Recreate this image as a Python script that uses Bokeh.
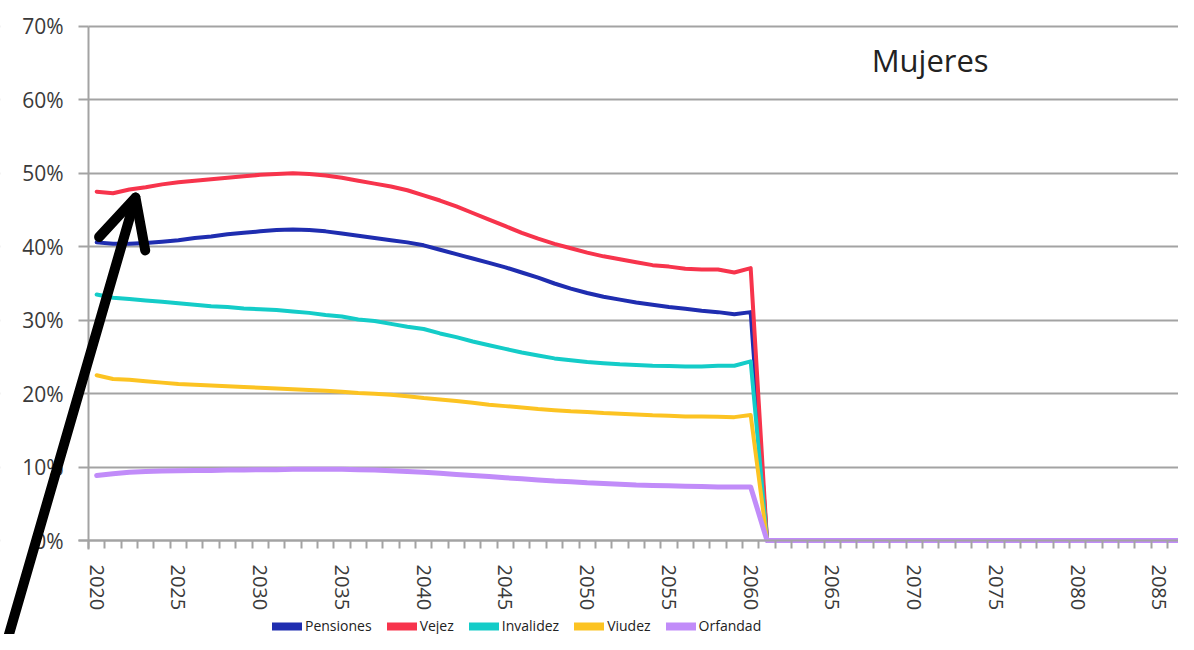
from bokeh.plotting import figure
from bokeh.models import (FixedTicker, Legend, LegendItem, Arrow, OpenHead,
                          Label, ColumnDataSource, BoxAnnotation)
from bokeh.embed import file_html
from bokeh.resources import INLINE

# ---------------- data ----------------
years = list(range(2020, 2088))

pensiones = [40.6, 40.4, 40.4, 40.5, 40.7, 40.9, 41.2, 41.4, 41.7, 41.9,
             42.1, 42.3, 42.35, 42.3, 42.1, 41.8, 41.5, 41.2, 40.9, 40.6,
             40.2, 39.6, 39.0, 38.4, 37.8, 37.2, 36.5, 35.8, 35.0, 34.3,
             33.7, 33.2, 32.8, 32.4, 32.1, 31.8, 31.55, 31.3, 31.1, 30.8,
             31.1]
vejez = [47.5, 47.3, 47.8, 48.1, 48.5, 48.8, 49.0, 49.2, 49.4, 49.6,
         49.8, 49.9, 50.0, 49.9, 49.7, 49.4, 49.0, 48.6, 48.2, 47.7,
         47.0, 46.3, 45.5, 44.6, 43.7, 42.8, 41.9, 41.1, 40.4, 39.8,
         39.2, 38.7, 38.3, 37.9, 37.5, 37.3, 37.0, 36.9, 36.9, 36.5,
         37.1]
invalidez = [33.5, 33.05, 32.9, 32.7, 32.5, 32.3, 32.1, 31.9, 31.8, 31.6,
             31.5, 31.4, 31.2, 31.0, 30.7, 30.5, 30.1, 29.9, 29.5, 29.1,
             28.8, 28.2, 27.7, 27.1, 26.6, 26.1, 25.6, 25.2, 24.8, 24.55,
             24.3, 24.15, 24.0, 23.9, 23.8, 23.75, 23.7, 23.7, 23.8, 23.8,
             24.4]
viudez = [22.5, 22.0, 21.9, 21.7, 21.5, 21.3, 21.2, 21.1, 21.0, 20.9,
          20.8, 20.7, 20.6, 20.5, 20.4, 20.25, 20.1, 20.0, 19.85, 19.65,
          19.4, 19.2, 19.0, 18.75, 18.5, 18.3, 18.1, 17.9, 17.75, 17.6,
          17.5, 17.35, 17.25, 17.15, 17.05, 17.0, 16.9, 16.9, 16.85, 16.8,
          17.1]
orfandad = [8.85, 9.1, 9.3, 9.4, 9.45, 9.5, 9.55, 9.55, 9.6, 9.6,
            9.65, 9.65, 9.7, 9.7, 9.7, 9.7, 9.65, 9.6, 9.5, 9.4,
            9.3, 9.15, 9.0, 8.85, 8.7, 8.55, 8.4, 8.25, 8.1, 8.0,
            7.85, 7.75, 7.65, 7.55, 7.5, 7.45, 7.4, 7.35, 7.3, 7.3,
            7.3]
# after 2060 every series is zero
zeros_after = [0, 0, 0, 0, 0, 0, 0, 0, 0, 0, 0, 0, 0, 0, 0, 0, 0, 0, 0, 0,
               0, 0, 0, 0, 0, 0, 0]

series_names = ["Pensiones", "Vejez", "Invalidez", "Viudez", "Orfandad"]
series_values = [pensiones, vejez, invalidez, viudez, orfandad]
colors = ["#1f2db0", "#f7344c", "#14ccc8", "#fcc322", "#c18cf9"]

y_ticks = [0, 10, 20, 30, 40, 50, 60, 70]
y_tick_labels = ["0%", "10%", "20%", "30%", "40%", "50%", "60%", "70%"]
x_label_years = [2020, 2025, 2030, 2035, 2040, 2045, 2050, 2055, 2060,
                 2065, 2070, 2075, 2080, 2085]

# ---------------- figure ----------------
W, H = 1178, 634
px_per_year = 16.35
px_per_pct = 7.343
frame_left_px, top_px, zero_px = 88, 26, 540
x_lo = 2019.5 - frame_left_px / px_per_year
x_hi = 2019.5 + (W - frame_left_px) / px_per_year
y_hi = 70 + top_px / px_per_pct
y_lo = -(H - zero_px) / px_per_pct

p = figure(width=W, height=H, output_backend="svg", toolbar_location=None,
           x_range=(x_lo, x_hi), y_range=(y_lo, y_hi),
           min_border=0)
p.outline_line_color = None
p.background_fill_color = "white"
p.border_fill_color = "white"

grid_col = "#a3a3a3"
p.xgrid.visible = False
p.ygrid.ticker = FixedTicker(ticks=y_ticks)
p.ygrid.grid_line_color = grid_col
p.ygrid.grid_line_width = 2
# hide the grid left of the value axis
p.add_layout(BoxAnnotation(left=x_lo - 2, right=2019.5, bottom=y_lo - 2,
                           top=y_hi + 2, fill_color="white", fill_alpha=1,
                           line_color=None, level="underlay"))

# y axis, drawn at the start of the first category
p.yaxis.fixed_location = 2019.5
p.yaxis.bounds = (-1.2, 70)
p.yaxis.ticker = FixedTicker(ticks=y_ticks)
p.yaxis.major_label_overrides = {t: l for t, l in zip(y_ticks, y_tick_labels)}
p.yaxis.axis_line_color = grid_col
p.yaxis.axis_line_width = 2
p.yaxis.major_tick_line_color = grid_col
p.yaxis.major_tick_line_width = 2
p.yaxis.major_tick_out = 10
p.yaxis.major_tick_in = 0
p.yaxis.minor_tick_line_color = None
p.yaxis.major_label_standoff = 15
p.yaxis.major_label_text_font = "Open Sans"
p.yaxis.major_label_text_font_size = "21px"
p.yaxis.major_label_text_color = "#3a3a3a"

# x axis at 0 %, labels every 5 years, ticks at category boundaries
boundaries = [y - 0.5 for y in years] + [years[-1] + 0.5]
p.xaxis.fixed_location = 0
p.xaxis.bounds = (2019.5 - 10 / px_per_year, years[-1] + 0.5)
p.xaxis.ticker = FixedTicker(ticks=x_label_years, minor_ticks=boundaries)
p.xaxis.major_label_overrides = {y: str(y) for y in x_label_years}
p.xaxis.axis_line_color = grid_col
p.xaxis.axis_line_width = 2
p.xaxis.major_tick_out = 0
p.xaxis.major_tick_in = 0
p.xaxis.minor_tick_out = 8
p.xaxis.minor_tick_in = 0
p.xaxis.minor_tick_line_color = grid_col
p.xaxis.minor_tick_line_width = 2
p.xaxis.major_label_orientation = "vertical"
p.xaxis.major_label_standoff = 16
p.xaxis.major_label_text_font = "Open Sans"
p.xaxis.major_label_text_font_size = "20px"
p.xaxis.major_label_text_color = "#3a3a3a"

# lines
nan = float("nan")
items = []
for name, vals, col in zip(series_names, series_values, colors):
    src = ColumnDataSource(data=dict(x=years, y=vals + zeros_after))
    lw = 5 if name == "Orfandad" else 4
    p.line("x", "y", source=src, line_color=col, line_width=lw,
           line_join="round", line_cap="round")
    # legend-only swatch (thicker, like the reference key)
    swatch = p.line(x=[nan], y=[nan], line_color=col, line_width=8,
                    line_cap="round")
    items.append(LegendItem(label=name, renderers=[swatch]))

legend = Legend(items=items, orientation="horizontal", location=(272, -1),
                glyph_width=30, glyph_height=14, label_standoff=3, spacing=15,
                padding=0, margin=0, border_line_color=None,
                background_fill_alpha=0, label_text_font="Open Sans",
                label_text_font_size="14px", label_text_color="#222222",
                label_height=14)
p.add_layout(legend, "center")

# title inside plot
p.add_layout(Label(x=2067.4, y=65.5, text="Mujeres", text_font="Open Sans",
                   text_font_size="31px", text_color="#222222",
                   text_baseline="middle"))

# annotation arrow
p.add_layout(Arrow(x_start=2014.18, y_start=-16.3, x_end=2022.375, y_end=46.7,
                   line_width=10, line_color="black", line_cap="round",
                   end=OpenHead(size=48, line_width=10, line_color="black",
                                line_cap="round", line_join="round")))

open("out.html", "w").write(file_html(p, INLINE))
